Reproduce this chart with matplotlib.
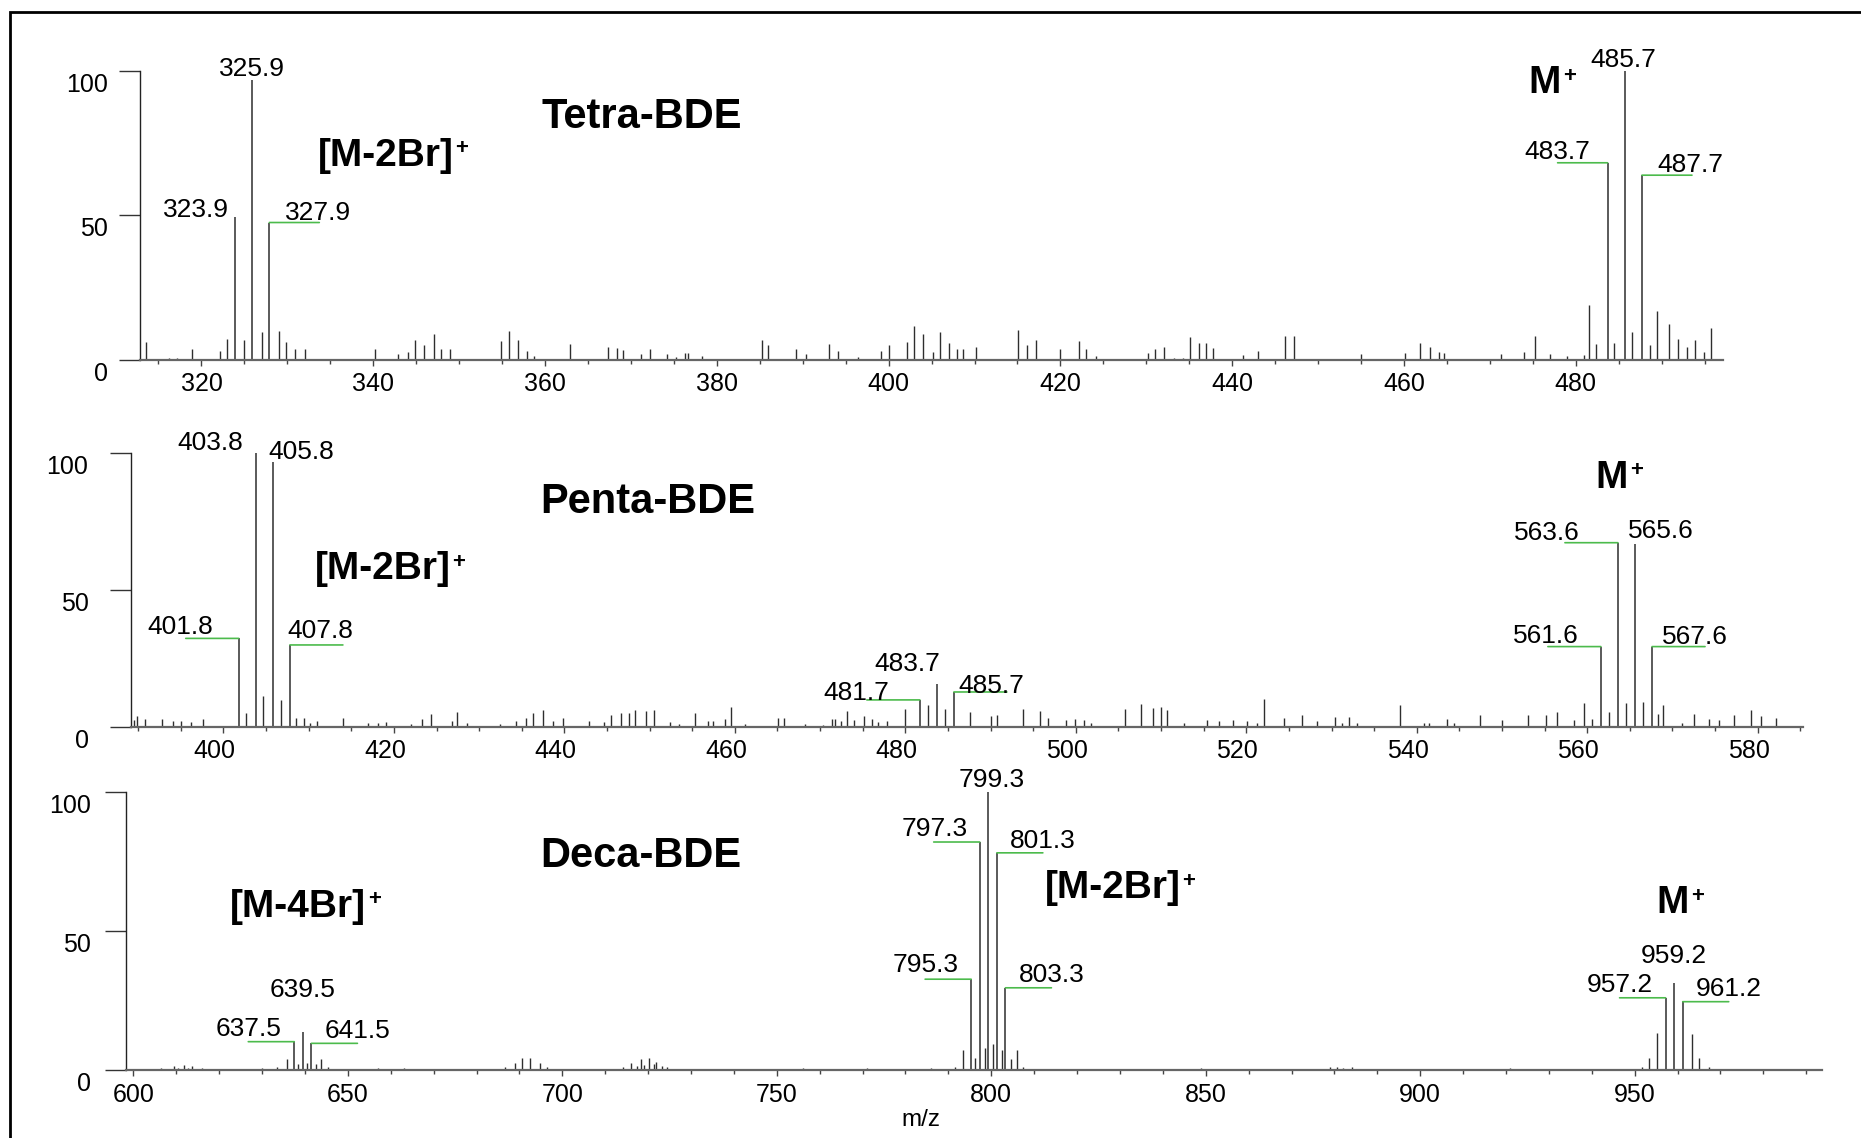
import matplotlib
matplotlib.use("Agg")
import matplotlib.pyplot as plt
import matplotlib.transforms as mtransforms
from matplotlib.patches import Rectangle
from matplotlib.ticker import MultipleLocator, NullFormatter

plt.rcParams['font.family'] = ['Liberation Sans', 'DejaVu Sans']

# ---- Tetra-BDE spectrum ----
tetra_peaks_mz = [323.9, 325.9, 327.9, 483.7, 485.7, 487.7]
tetra_peaks_int = [49.5, 96.9, 47.5, 68.2, 100.0, 63.9]
tetra_noise_mz = [313.6, 316.2, 317.2, 318.9, 322.2, 323.0, 324.9, 327.0, 329.0, 329.8,
                  330.9, 332.0, 340.2, 342.9, 344.1, 344.9, 345.9, 347.1, 347.9, 348.9,
                  354.9, 355.8, 356.9, 357.9, 358.7, 362.9, 367.3, 368.4, 369.1, 371.2,
                  372.2, 374.2, 375.2, 376.3, 376.6, 378.3, 385.2, 385.9, 389.2, 390.4,
                  393.1, 394.1, 396.4, 399.1, 400.0, 402.1, 403.0, 404.0, 405.2, 406.0,
                  407.0, 408.0, 408.7, 410.2, 415.1, 416.1, 417.2, 420.0, 422.2, 423.0,
                  424.1, 430.2, 431.0, 432.1, 433.2, 434.3, 435.1, 436.1, 437.0, 437.8,
                  441.2, 443.0, 446.1, 447.2, 455.0, 460.1, 461.9, 463.0, 464.1, 464.7,
                  471.3, 474.0, 475.2, 477.0, 479.0, 480.9, 481.5, 482.3, 484.5, 486.5,
                  488.6, 489.4, 490.8, 491.9, 492.9, 493.9, 494.9, 495.7]
tetra_noise_int = [6.1, 0.5, 0.5, 3.6, 2.9, 7.0, 6.9, 9.6, 9.8, 6.1,
                   3.5, 3.8, 3.5, 2.1, 2.5, 6.9, 4.9, 8.7, 3.6, 3.5,
                   6.4, 9.9, 6.7, 2.9, 1.2, 5.5, 4.3, 4.1, 3.4, 2.1,
                   3.5, 1.9, 0.9, 2.3, 2.3, 1.2, 6.9, 5.0, 3.8, 2.0,
                   5.4, 3.1, 0.9, 3.1, 4.9, 6.0, 11.6, 8.7, 2.5, 9.6,
                   5.7, 3.6, 3.6, 4.5, 10.4, 5.2, 6.9, 3.8, 6.3, 3.6,
                   1.4, 2.3, 3.5, 4.3, 0.6, 0.6, 7.8, 5.8, 5.6, 4.1,
                   1.7, 3.1, 8.3, 8.3, 2.0, 2.3, 5.9, 4.3, 2.8, 2.3,
                   2.0, 2.5, 8.3, 2.1, 1.4, 1.5, 18.8, 5.5, 5.8, 9.6,
                   5.0, 16.8, 12.5, 7.3, 4.4, 6.7, 2.7, 11.1]
tetra_ticks = [320, 340, 360, 380, 400, 420, 440, 460, 480]

# ---- Penta-BDE spectrum ----
penta_peaks_mz = [401.8, 403.8, 405.8, 407.8, 481.7, 483.7, 485.7, 561.6, 563.6, 565.6, 567.6]
penta_peaks_int = [32.3, 100.0, 96.7, 29.9, 9.8, 15.5, 12.7, 29.3, 67.3, 66.8, 29.3]
penta_noise_mz = [389.5, 389.9, 390.8, 392.8, 394.1, 395.0, 396.2, 397.6, 402.7, 404.6,
                  406.8, 408.5, 409.4, 410.2, 411.0, 414.0, 417.0, 418.1, 419.1, 422.0,
                  423.3, 424.4, 426.8, 427.4, 428.6, 432.5, 434.3, 435.5, 436.3, 437.5,
                  438.7, 439.8, 442.9, 444.7, 445.5, 446.7, 447.6, 448.3, 449.6, 450.5,
                  452.4, 453.5, 455.3, 456.8, 457.4, 458.8, 459.5, 461.2, 465.1, 465.8,
                  468.2, 470.4, 471.4, 471.8, 472.4, 473.1, 474.0, 475.2, 476.1, 476.8,
                  477.9, 480.0, 482.7, 484.6, 487.6, 490.0, 490.8, 493.8, 495.8, 496.7,
                  498.8, 499.9, 501.0, 501.8, 505.8, 507.7, 509.0, 510.0, 510.7, 512.7,
                  515.4, 516.8, 518.4, 520.1, 521.3, 522.1, 524.4, 526.5, 528.3, 530.4,
                  531.2, 532.1, 533.0, 538.0, 540.9, 541.4, 543.5, 544.4, 547.4, 550.0,
                  553.1, 555.2, 556.4, 558.4, 559.6, 560.6, 562.5, 564.6, 566.5, 568.3,
                  568.9, 571.1, 572.5, 574.3, 575.4, 577.2, 579.2, 580.4, 582.1]
penta_noise_int = [2.4, 4.0, 2.7, 2.7, 2.1, 2.0, 1.7, 2.7, 5.1, 11.2,
                   9.8, 3.0, 3.0, 1.2, 2.0, 3.0, 1.2, 1.5, 1.8, 1.0,
                   2.7, 4.6, 2.2, 5.2, 1.2, 1.0, 2.2, 3.0, 4.9, 6.1,
                   2.0, 3.0, 2.2, 1.8, 4.3, 4.9, 4.9, 6.1, 5.7, 6.0,
                   1.7, 0.9, 4.9, 2.1, 2.1, 2.9, 7.3, 0.9, 3.0, 3.3,
                   0.9, 0.5, 2.7, 2.9, 2.1, 5.6, 2.4, 3.8, 2.7, 1.7,
                   2.1, 6.3, 7.8, 6.6, 5.4, 3.9, 4.1, 6.3, 5.7, 3.3,
                   2.3, 2.7, 2.6, 1.5, 6.3, 8.2, 7.0, 7.2, 6.1, 1.2,
                   2.4, 2.1, 2.6, 2.1, 1.2, 10.0, 3.3, 4.1, 2.1, 3.7,
                   1.5, 3.7, 1.2, 7.8, 1.2, 1.2, 2.7, 1.2, 4.1, 2.3,
                   4.1, 4.1, 5.4, 2.6, 8.5, 2.9, 5.4, 8.5, 9.1, 4.5,
                   7.8, 1.2, 4.5, 2.7, 2.3, 4.1, 6.1, 3.9, 3.0]
penta_ticks = [400, 420, 440, 460, 480, 500, 520, 540, 560, 580]

# ---- Deca-BDE spectrum ----
deca_peaks_mz = [637.5, 639.5, 641.5, 795.3, 797.3, 799.3, 801.3, 803.3, 957.2, 959.2, 961.2]
deca_peaks_int = [10.2, 13.6, 9.6, 32.7, 82.1, 100.0, 78.2, 29.6, 26.0, 31.4, 24.6]
deca_noise_mz = [601.5, 603.0, 604.5, 606.5, 608.0, 609.4, 610.5, 611.8, 612.7, 613.6,
                 614.8, 616.1, 617.5, 619.0, 621.5, 623.5, 625.0, 627.0, 628.5, 630.0,
                 631.5, 633.5, 635.8, 638.4, 640.5, 642.5, 643.7, 645.3, 647.0, 652.0,
                 655.0, 657.0, 659.0, 661.0, 663.0, 665.0, 668.0, 671.0, 674.0, 677.0,
                 680.0, 683.0, 685.0, 686.6, 688.9, 690.6, 692.4, 694.9, 696.5, 698.0,
                 700.5, 703.0, 706.0, 709.0, 711.5, 714.2, 716.0, 717.3, 718.4, 719.0,
                 720.2, 721.4, 721.9, 723.2, 724.5, 726.0, 728.0, 731.0, 734.0, 737.0,
                 740.0, 743.0, 746.0, 750.0, 753.0, 756.0, 759.0, 762.0, 765.0, 768.0,
                 771.0, 774.0, 777.0, 780.0, 783.0, 786.0, 789.0, 791.6, 793.4, 796.3,
                 798.6, 800.5, 802.6, 804.7, 805.9, 807.5, 810.0, 813.0, 817.0, 821.0,
                 824.0, 828.0, 832.0, 836.0, 840.0, 845.0, 849.0, 853.0, 857.0, 861.0,
                 865.0, 869.0, 873.0, 878.9, 880.5, 882.0, 884.0, 888.0, 892.0, 896.0,
                 900.0, 904.0, 908.0, 912.0, 916.0, 920.0, 921.0, 922.0, 923.0, 928.0,
                 932.0, 935.3, 938.0, 941.7, 944.0, 947.0, 951.6, 953.3, 955.1, 963.3,
                 965.1, 967.3, 972.0, 976.0, 981.4, 986.0]
deca_noise_int = [0.4, 0.5, 0.4, 0.6, 0.5, 1.6, 0.6, 1.8, 0.7, 1.4,
                  0.5, 0.8, 0.4, 0.4, 0.4, 0.5, 0.4, 0.5, 0.4, 0.6,
                  0.5, 1.2, 3.8, 2.0, 2.4, 2.0, 3.8, 1.0, 0.4, 0.5,
                  0.5, 0.6, 0.5, 0.4, 0.6, 0.4, 0.5, 0.4, 0.5, 0.4,
                  0.5, 0.4, 0.5, 1.0, 2.6, 4.2, 4.2, 2.4, 1.0, 0.5,
                  0.4, 0.5, 0.4, 0.5, 0.4, 1.0, 2.6, 1.4, 4.0, 1.8,
                  4.2, 2.0, 2.8, 1.4, 1.0, 0.5, 0.5, 0.4, 0.5, 0.4,
                  0.5, 0.4, 0.5, 0.4, 0.5, 0.6, 0.4, 0.5, 0.4, 0.5,
                  0.6, 0.5, 0.4, 0.5, 0.5, 0.6, 0.5, 1.2, 7.2, 4.2,
                  8.0, 9.4, 7.2, 4.0, 7.2, 1.2, 0.5, 0.4, 0.5, 0.4,
                  0.5, 0.4, 0.5, 0.4, 0.5, 0.4, 0.6, 0.4, 0.5, 0.4,
                  0.5, 0.4, 0.5, 1.2, 1.0, 0.6, 1.0, 0.5, 0.4, 0.5,
                  0.4, 0.5, 0.4, 0.5, 0.4, 0.5, 0.6, 0.5, 0.5, 0.4,
                  0.4, 0.4, 0.5, 0.4, 0.4, 0.5, 1.2, 4.4, 13.2, 12.8,
                  4.2, 1.2, 0.4, 0.5, 0.5, 0.4]
deca_ticks = [600, 650, 700, 750, 800, 850, 900, 950]

y_ticks = [0, 50, 100]

W, H = 1861, 1138
fig = plt.figure(figsize=(W / 100, H / 100), dpi=100)
fig.patch.set_facecolor('white')

# frame around the whole figure
fig.add_artist(Rectangle((10 / W, -0.05), 1.2, (H - 11.5) / H + 0.05,
                         transform=fig.transFigure, fill=False, ec='black', lw=2.0))

GREEN = '#4cbb4c'
PEAK = '#2e2e2e'


def make_panel(left, right, y0, y100, xlim, minor, ticks, ylab_dx, xlab_dx=0):
    ax = fig.add_axes([left / W, 1 - y0 / H, (right - left) / W, (y0 - y100) / H])
    ax.set_xlim(*xlim)
    ax.set_ylim(0, 100)
    ax.patch.set_visible(False)
    for s in ('top', 'right'):
        ax.spines[s].set_visible(False)
    ax.spines['left'].set_bounds(0, 100)
    ax.spines['left'].set_color('#222222')
    ax.spines['left'].set_linewidth(1.0)
    ax.spines['bottom'].set_color('#666666')
    ax.spines['bottom'].set_linewidth(1.6)

    ax.set_yticks(y_ticks)
    ax.set_yticklabels([])
    ax.tick_params(axis='y', length=15, width=1.0, color='#333333', direction='out')
    for v in y_ticks:
        ax.annotate(str(v), xy=(0, v), xycoords=('axes fraction', 'data'),
                    xytext=(ylab_dx, -14), textcoords='offset pixels',
                    ha='right', va='center', fontsize=18)

    ax.set_xticks(ticks)
    ax.xaxis.set_minor_locator(MultipleLocator(minor))
    ax.xaxis.set_minor_formatter(NullFormatter())
    ax.tick_params(axis='x', which='major', length=4.5, width=1.0, color='#444444',
                   direction='out', pad=4.5, labelsize=18)
    ax.tick_params(axis='x', which='minor', length=3, width=1.0, color='#444444',
                   direction='out')
    if xlab_dx:
        shift = mtransforms.ScaledTranslation(xlab_dx / 100, 0, fig.dpi_scale_trans)
        for lab in ax.get_xticklabels():
            lab.set_transform(lab.get_transform() + shift)
    return ax


def draw_spectrum(ax, peaks_mz, peaks_int, noise_mz, noise_int, place, lead_len):
    ax.vlines(noise_mz, 0, noise_int, colors=PEAK, lw=1.0, clip_on=False)
    ax.vlines(peaks_mz, 0, peaks_int, colors=PEAK, lw=1.1, clip_on=False)
    for mz, h, (kind, dx, dy) in zip(peaks_mz, peaks_int, place):
        if kind in ('L', 'R'):
            side = -1 if kind == 'L' else 1
            ax.annotate('', xy=(mz, h), xytext=(side * lead_len, 0),
                        textcoords='offset pixels',
                        arrowprops=dict(arrowstyle='-', color=GREEN, lw=1.2,
                                        shrinkA=0, shrinkB=0))
        ax.annotate(f'{mz:.1f}', xy=(mz, h), xytext=(dx, dy), textcoords='offset pixels',
                    ha='center', va='baseline', fontsize=19)


def ion_label(ax, x, y, text):
    # bold ion name with a small raised "+"
    t = ax.text(x, y, text, fontsize=28, fontweight='bold', ha='left', va='center')
    ax.annotate('+', xy=(1, 0), xycoords=t, xytext=(2, 25), textcoords='offset pixels',
                ha='left', va='center', fontsize=16, fontweight='bold')


# Tetra-BDE
ax1 = make_panel(139.6, 1722.7, 359.6, 71.0, (312.8, 497.1), 5, tetra_ticks, -32)
tetra_place = [('T', -39, 0), ('T', 0, 4), ('R', 49, 3), ('L', -50, 4), ('T', -1, 4), ('R', 48, 3)]
draw_spectrum(ax1, tetra_peaks_mz, tetra_peaks_int, tetra_noise_mz, tetra_noise_int,
              tetra_place, 50)
ax1.text(371.3, 83.9, 'Tetra-BDE', fontsize=30, fontweight='bold', ha='center', va='center')
ion_label(ax1, 333.5, 70.7, '[M-2Br]')
ion_label(ax1, 474.5, 95.8, 'M')

# Penta-BDE
ax2 = make_panel(130.5, 1802.9, 726.7, 453.3, (389.1, 585.3), 5, penta_ticks, -42, -9)
penta_place = [('L', -59, 4), ('T', -46, 3), ('T', 28, 3), ('R', 30, 7), ('L', -64, 0),
               ('T', -30, 13), ('R', 37, -1), ('L', -55, 4), ('L', -71, 3), ('T', 26, 6),
               ('R', 43, 3)]
draw_spectrum(ax2, penta_peaks_mz, penta_peaks_int, penta_noise_mz, penta_noise_int,
              penta_place, 53)
ax2.text(449.8, 82.2, 'Penta-BDE', fontsize=30, fontweight='bold', ha='center', va='center')
ion_label(ax2, 410.7, 57.5, '[M-2Br]')
ion_label(ax2, 561.0, 91.0, 'M')

# Deca-BDE
ax3 = make_panel(125.7, 1821.7, 1070.0, 792.3, (598.2, 993.6), 10, deca_ticks, -35)
deca_place = [('L', -46, 6), ('T', 0, 35), ('R', 46, 5), ('L', -46, 7), ('L', -45, 6),
              ('T', 3, 5), ('R', 46, 5), ('R', 46, 6), ('L', -46, 6), ('T', 0, 20),
              ('R', 46, 6)]
draw_spectrum(ax3, deca_peaks_mz, deca_peaks_int, deca_noise_mz, deca_noise_int,
              deca_place, 46)
ax3.text(718.4, 77.1, 'Deca-BDE', fontsize=30, fontweight='bold', ha='center', va='center')
ion_label(ax3, 622.6, 58.7, '[M-4Br]')
ion_label(ax3, 812.4, 65.5, '[M-2Br]')
ion_label(ax3, 955.1, 60.1, 'M')
ax3.text(0.469, -0.18, 'm/z', transform=ax3.transAxes, fontsize=17.5,
         ha='center', va='center')

fig.savefig('out.png', dpi=100, facecolor='white')
